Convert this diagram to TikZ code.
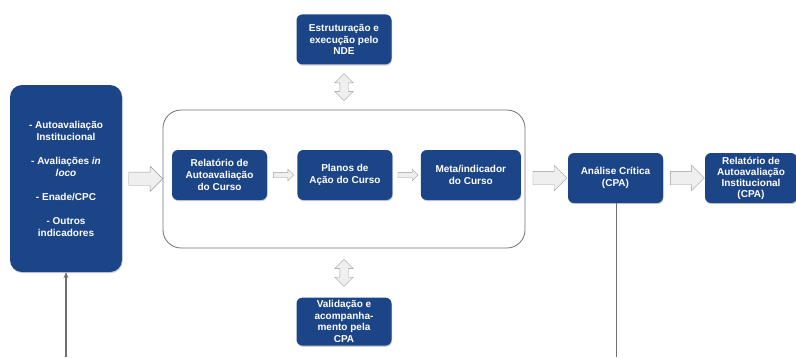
\documentclass[tikz,border=0pt]{standalone}
\usepackage{fontspec}
\setmainfont{Liberation Sans}
\usetikzlibrary{positioning,shapes.arrows,shadows,arrows.meta,calc}
\definecolor{boxblue}{HTML}{1C4587}
\definecolor{arrowfill}{HTML}{EFEFEF}
\definecolor{arrowline}{HTML}{9A9A9A}
\definecolor{linegray}{HTML}{707070}

\begin{document}
\begin{tikzpicture}[
  x=1pt, y=-1pt,
  boxstyle/.style={
        fill=boxblue,
        rounded corners=6pt,
        text=white,
        align=center,
        font=\fontsize{10}{11.7}\selectfont\bfseries,
        minimum width=95pt,
        minimum height=50pt,
        inner sep=2pt,
        drop shadow={shadow xshift=0.6pt, shadow yshift=-1.2pt, opacity=0.3, fill=black!60}
  },
  bigarrow/.style={
        single arrow,
        draw=arrowline,
        fill=arrowfill,
        minimum height=34pt,
        inner xsep=0pt,
        inner ysep=6.5pt,
        single arrow head extend=6pt
  },
  smallarrow/.style={
        bigarrow,
        minimum height=20pt,
        inner ysep=2.5pt,
        single arrow head extend=3pt
  },
  dblarrow/.style={
        double arrow,
        draw=arrowline,
        fill=arrowfill,
        rotate=90,
        minimum height=27pt,
        inner xsep=0pt,
        inner ysep=4pt,
        double arrow head extend=5pt
  }
]

    \useasboundingbox (0,0) rectangle (796,357);

    \coordinate (feedL) at (66,357);
    \coordinate (feedR) at (616.5,357);

    \node[draw=linegray, line width=0.8pt, rounded corners=18pt,
          minimum width=362pt, minimum height=138pt] (frame) at (344,179) {};

    \node[boxstyle, font=\fontsize{10}{12}\selectfont\bfseries,
          minimum width=112pt, minimum height=187pt, rounded corners=12pt] (inputs) at (66,178.5)
    {- Autoavaliação\\Institucional\\[12pt]- Avaliações \textit{in}\\\textit{loco}\\[12pt]- Enade/CPC\\[12pt]- Outros\\indicadores};

    \node[boxstyle] (rac) at (219.5,175) {Relatório de\\Autoavaliação\\do Curso};
    \node[boxstyle, right=30pt of rac] (planos) {Planos de\\Ação do Curso};
    \node[boxstyle, right=28pt of planos, minimum width=100pt] (meta) {Meta/indicador\\do Curso};

    \node[boxstyle, above=45pt of frame] (nde) {Estruturação e\\execução pelo\\NDE};
    \node[boxstyle, below=49pt of frame, minimum height=48pt, font=\fontsize{10}{11.5}\selectfont\bfseries] (val)
    {Validação e\\acompanha-\\mento pela\\CPA};

    \node[boxstyle] (analise) at (615.5,178) {Análise Crítica\\(CPA)};
    \node[boxstyle, minimum width=92pt, font=\fontsize{10}{11}\selectfont\bfseries] (rai) at (751,178)
    {Relatório de\\Autoavaliação\\Institucional\\(CPA)};

    \node[bigarrow] (a1) at ($(inputs.east)!0.5!(frame.west)$) {};
    \node[bigarrow] (a2) at ($(frame.east |- analise)!0.5!(analise.west)$) {};
    \node[bigarrow] (a3) at ($(analise.east)!0.5!(rai.west)$) {};

    \node[smallarrow] (s1) at ($(rac.east)!0.5!(planos.west)$) {};
    \node[smallarrow] (s2) at ($(planos.east)!0.5!(meta.west)$) {};

    \node[dblarrow] (d1) at ($(nde.south)!0.5!(frame.north)$) {};
    \node[dblarrow] (d2) at ($(frame.south)!0.5!(val.north)$) {};

    \draw[linegray, line width=1.4pt] (analise.south -| feedR) -- (feedR);
    \draw[linegray, line width=1.4pt, -{Stealth[length=6pt, width=5pt]}] (feedL) -- (inputs.south);
\end{tikzpicture}
\end{document}
